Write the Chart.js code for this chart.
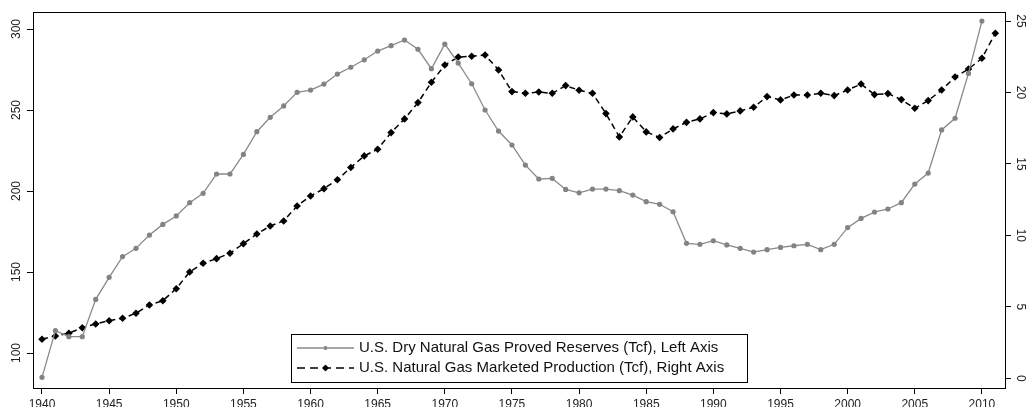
<!DOCTYPE html>
<html>
<head>
<meta charset="utf-8">
<script src="https://cdn.jsdelivr.net/npm/chart.js@4.4.0/dist/chart.umd.min.js"></script>
<style>
  html, body { margin: 0; padding: 0; background: #fff; }
  #wrap { width: 1026px; height: 407px; }
</style>
</head>
<body>
<div id="wrap"><canvas id="gasChart" width="1026" height="407"></canvas></div>
<script>
// years 1940..2011
const years = [];
for (let y = 1940; y <= 2011; y++) years.push(y);

// U.S. dry natural gas proved reserves (Tcf), 1940-2010, left axis
const reserves = [
  85, 113.8, 110.1, 110.1, 133.1, 146.7, 159.5, 164.6, 172.8, 179.4,
  184.6, 192.8, 198.6, 210.5, 210.5, 222.6, 236.6, 245.5, 252.5, 260.9,
  262.3, 266, 272.2, 276.4, 281, 286.4, 289.7, 293.2, 287.5, 275.5,
  290.7, 279, 266.2, 250, 237, 228.4, 216, 207.4, 207.8, 201,
  198.9, 201.2, 201.2, 200.2, 197.5, 193.4, 191.8, 187.2, 167.7, 167.1,
  169.3, 166.7, 164.6, 162.3, 163.8, 165.2, 166.2, 167.1, 163.8, 167.1,
  177.4, 183.1, 187, 188.9, 192.8, 204.3, 211.1, 237.7, 244.9, 272.6,
  304.9
];

// U.S. natural gas marketed production (Tcf), 1940-2011, right axis
const production = [
  2.73, 2.96, 3.15, 3.54, 3.80, 4.03, 4.20, 4.55, 5.13, 5.43,
  6.27, 7.44, 8.05, 8.37, 8.75, 9.42, 10.10, 10.66, 11.01, 12.06,
  12.76, 13.27, 13.89, 14.75, 15.56, 16.03, 17.19, 18.15, 19.29, 20.71,
  21.92, 22.48, 22.53, 22.62, 21.57, 20.06, 19.94, 20.03, 19.94, 20.48,
  20.15, 19.94, 18.52, 16.89, 18.29, 17.24, 16.85, 17.45, 17.91, 18.15,
  18.59, 18.50, 18.71, 18.96, 19.71, 19.48, 19.82, 19.82, 19.94, 19.78,
  20.17, 20.59, 19.85, 19.92, 19.50, 18.89, 19.43, 20.17, 21.08, 21.64,
  22.39, 24.14
];

const xTicks = [1940, 1945, 1950, 1955, 1960, 1965, 1970, 1975, 1980, 1985, 1990, 1995, 2000, 2005, 2010];
const leftTicks = [100, 150, 200, 250, 300];
const rightTicks = [0, 5, 10, 15, 20, 25];

const seriesNames = [
  'U.S. Dry Natural Gas Proved Reserves (Tcf), Left Axis',
  'U.S. Natural Gas Marketed Production (Tcf), Right Axis'
];

const FONT = '"Liberation Sans", Arial, sans-serif';

// tick labels (rotated like the original), plot frame and boxed legend
const stataLook = {
  id: 'stataLook',
  afterDraw(chart) {
    const ctx = chart.ctx;
    const area = chart.chartArea;
    const sx = chart.scales.x, yl = chart.scales.yL, yr = chart.scales.yR;

    ctx.save();
    ctx.strokeStyle = '#000';
    ctx.lineWidth = 1;
    ctx.strokeRect(Math.round(area.left) + 0.5, Math.round(area.top) + 0.5,
      Math.round(area.right - area.left), Math.round(area.bottom - area.top));

    ctx.fillStyle = '#222';
    ctx.font = '12px ' + FONT;
    ctx.textAlign = 'center';

    ctx.textBaseline = 'top';
    xTicks.forEach(v => ctx.fillText(String(v), sx.getPixelForValue(v), 398.5));

    ctx.textBaseline = 'middle';
    leftTicks.forEach(v => {
      ctx.save();
      ctx.translate(17, yl.getPixelForValue(v));
      ctx.rotate(-Math.PI / 2);
      ctx.fillText(String(v), 0, 0);
      ctx.restore();
    });
    rightTicks.forEach(v => {
      ctx.save();
      ctx.translate(1020, yr.getPixelForValue(v));
      ctx.rotate(Math.PI / 2);
      ctx.fillText(String(v), 0, 0);
      ctx.restore();
    });

    // legend
    const bx = 291, by = 334, bw = 456, bh = 48;
    ctx.fillStyle = '#fff';
    ctx.fillRect(bx, by, bw, bh);
    ctx.strokeStyle = '#000';
    ctx.strokeRect(bx + 0.5, by + 0.5, bw, bh);

    chart.data.datasets.forEach((ds, i) => {
      const ry = by + 14 + i * 20;
      ctx.save();
      ctx.strokeStyle = ds.borderColor;
      ctx.lineWidth = ds.borderWidth;
      ctx.setLineDash(ds.borderDash ? [8, 5] : []);
      ctx.beginPath();
      ctx.moveTo(297, ry);
      ctx.lineTo(354, ry);
      ctx.stroke();
      ctx.setLineDash([]);
      Chart.helpers.drawPoint(ctx, {
        pointStyle: ds.pointStyle,
        radius: ds.pointRadius - 0.5,
        borderWidth: ds.pointBorderWidth
      }, 325.5, ry);
      ctx.fillStyle = ds.pointBackgroundColor;
      ctx.fill();
      ctx.restore();

      ctx.fillStyle = '#111';
      ctx.font = '15px ' + FONT;
      ctx.textAlign = 'left';
      ctx.textBaseline = 'middle';
      ctx.fillText(ds.label, 359, ry);
    });
    ctx.restore();
  }
};

const tickGrid = { drawOnChartArea: false, drawTicks: true, tickLength: 6, color: '#000', lineWidth: 1 };

new Chart(document.getElementById('gasChart').getContext('2d'), {
  type: 'line',
  data: {
    datasets: [{
      label: seriesNames[0],
      data: reserves.map((v, i) => ({ x: years[i], y: v })),
      yAxisID: 'yL',
      borderColor: '#8a8a8a',
      borderWidth: 1.3,
      pointStyle: 'circle',
      pointRadius: 2.6,
      pointBorderWidth: 0,
      pointBackgroundColor: '#838383',
      pointBorderColor: '#838383',
      tension: 0
    }, {
      label: seriesNames[1],
      data: production.map((v, i) => ({ x: years[i], y: v })),
      yAxisID: 'yR',
      borderColor: '#000',
      borderWidth: 1.5,
      borderDash: [6, 4],
      pointStyle: 'rectRot',
      pointRadius: 3.8,
      pointBorderWidth: 0,
      pointBackgroundColor: '#000',
      pointBorderColor: '#000',
      tension: 0
    }]
  },
  options: {
    responsive: false,
    animation: false,
    layout: { padding: { top: 12, left: 0, right: 0, bottom: 0 } },
    plugins: { legend: { display: false }, tooltip: { enabled: false } },
    scales: {
      x: {
        type: 'linear',
        min: 1939.33,
        max: 2011.72,
        afterBuildTicks: s => { s.ticks = xTicks.map(v => ({ value: v })); },
        afterFit: s => { s.height = 19; },
        ticks: { display: false },
        grid: tickGrid,
        border: { display: false }
      },
      yL: {
        position: 'left',
        min: 78.4,
        max: 310.5,
        afterBuildTicks: s => { s.ticks = leftTicks.map(v => ({ value: v })); },
        afterFit: s => { s.width = 33; },
        ticks: { display: false },
        grid: tickGrid,
        border: { display: false }
      },
      yR: {
        position: 'right',
        min: -0.68,
        max: 25.63,
        afterBuildTicks: s => { s.ticks = rightTicks.map(v => ({ value: v })); },
        afterFit: s => { s.width = 21; },
        ticks: { display: false },
        grid: tickGrid,
        border: { display: false }
      }
    }
  },
  plugins: [stataLook]
});
</script>
</body>
</html>
